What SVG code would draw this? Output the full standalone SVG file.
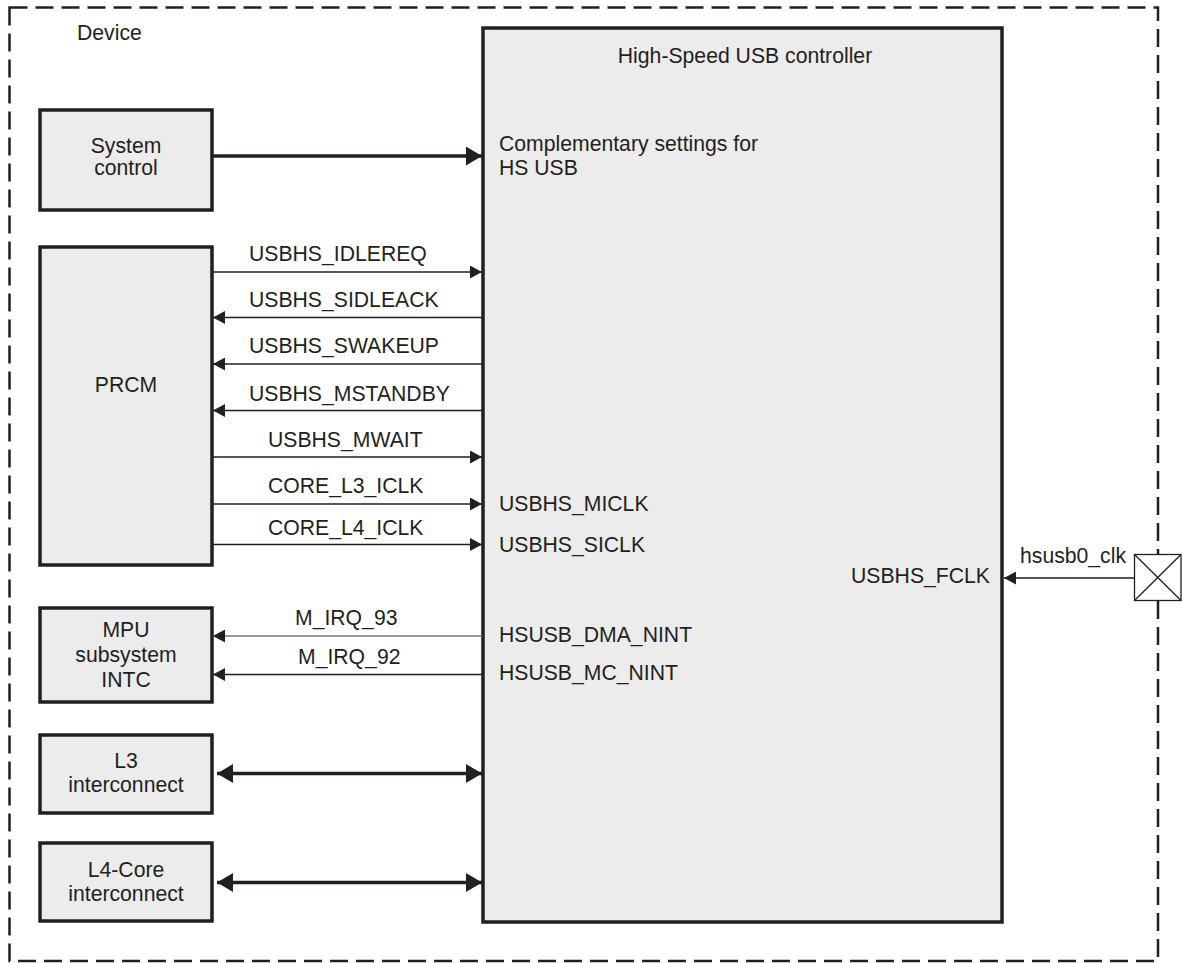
<svg xmlns="http://www.w3.org/2000/svg" width="1182" height="963" viewBox="0 0 1182 963">
<defs>
<style>
text{font-family:"Liberation Sans",Arial,sans-serif;font-size:21.2px;fill:#231f20}
.mid{text-anchor:middle}
.box{fill:#ececec;stroke:#231f20;stroke-width:3.5}
.thin{stroke:#231f20;stroke-width:1.5;fill:none}
.thick{stroke:#231f20;stroke-width:3.5;fill:none}
</style>
<marker id="ah" viewBox="0 0 12 13" refX="12" refY="6.5" markerWidth="12" markerHeight="13" markerUnits="userSpaceOnUse" orient="auto-start-reverse"><path d="M0,0L12,6.5L0,13Z" fill="#231f20"/></marker>
<marker id="ahb" viewBox="0 0 16 19" refX="16" refY="9.5" markerWidth="16" markerHeight="19" markerUnits="userSpaceOnUse" orient="auto-start-reverse"><path d="M0,0L16,9.5L0,19Z" fill="#231f20"/></marker>
</defs>
<rect width="1182" height="963" fill="#ffffff"/>
<g id="device">
<rect x="9.5" y="7.5" width="1148.5" height="953.5" fill="none" stroke="#231f20" stroke-width="2.5" stroke-dasharray="18 8"/>
<text x="77" y="40">Device</text>
</g>
<g id="controller">
<rect class="box" x="483" y="28" width="519" height="894"/>
<text x="745" y="63" class="mid">High-Speed USB controller</text>
<text x="499" y="151">Complementary settings for</text>
<text x="499" y="175">HS USB</text>
<text x="499" y="511">USBHS_MICLK</text>
<text x="499" y="552">USBHS_SICLK</text>
<text x="990" y="583" text-anchor="end">USBHS_FCLK</text>
<text x="499" y="642">HSUSB_DMA_NINT</text>
<text x="499" y="680">HSUSB_MC_NINT</text>
</g>
<g id="system-control">
<rect class="box" x="40" y="110" width="172" height="100"/>
<text x="126" y="153" class="mid">System</text>
<text x="126" y="175" class="mid">control</text>
</g>
<g id="prcm">
<rect class="box" x="40" y="247" width="172" height="318"/>
<text x="126" y="392" class="mid">PRCM</text>
</g>
<g id="mpu">
<rect class="box" x="40" y="608" width="172" height="94"/>
<text x="126" y="637" class="mid">MPU</text>
<text x="126" y="662" class="mid">subsystem</text>
<text x="126" y="687" class="mid">INTC</text>
</g>
<g id="l3">
<rect class="box" x="40" y="735" width="172" height="78"/>
<text x="126" y="768" class="mid">L3</text>
<text x="126" y="792" class="mid">interconnect</text>
</g>
<g id="l4">
<rect class="box" x="40" y="843" width="172" height="78"/>
<text x="126" y="877" class="mid">L4-Core</text>
<text x="126" y="901" class="mid">interconnect</text>
</g>
<g id="clk-pad">
<rect x="1134.5" y="554.5" width="46.5" height="46" fill="#ffffff" stroke="#231f20" stroke-width="1.3"/>
<path d="M1134.5,554.5L1181,600.5M1181,554.5L1134.5,600.5" stroke="#231f20" stroke-width="1.3" fill="none"/>
</g>
<g id="connectors">
<line class="thick" x1="213" y1="156" x2="482" y2="156" marker-end="url(#ahb)"/>
<line class="thin" x1="212" y1="272" x2="482" y2="272" marker-end="url(#ah)"/>
<text x="249" y="261">USBHS_IDLEREQ</text>
<line class="thin" x1="482" y1="317.5" x2="213" y2="317.5" marker-end="url(#ah)"/>
<text x="249" y="307">USBHS_SIDLEACK</text>
<line class="thin" x1="482" y1="364" x2="213" y2="364" marker-end="url(#ah)"/>
<text x="249" y="353">USBHS_SWAKEUP</text>
<line class="thin" x1="482" y1="410.5" x2="213" y2="410.5" marker-end="url(#ah)"/>
<text x="249" y="401">USBHS_MSTANDBY</text>
<line class="thin" x1="212" y1="457" x2="482" y2="457" marker-end="url(#ah)"/>
<text x="268" y="447">USBHS_MWAIT</text>
<line class="thin" x1="212" y1="504" x2="482" y2="504" marker-end="url(#ah)"/>
<text x="268" y="493">CORE_L3_ICLK</text>
<line class="thin" x1="212" y1="544.5" x2="482" y2="544.5" marker-end="url(#ah)"/>
<text x="268" y="535">CORE_L4_ICLK</text>
<line x1="482" y1="636" x2="213" y2="636" stroke="#777777" stroke-width="1.5" marker-end="url(#ah)"/>
<text x="295" y="625">M_IRQ_93</text>
<line class="thin" x1="482" y1="674.5" x2="213" y2="674.5" marker-end="url(#ah)"/>
<text x="298" y="664">M_IRQ_92</text>
<line class="thick" x1="217" y1="773.5" x2="482" y2="773.5" marker-start="url(#ahb)" marker-end="url(#ahb)"/>
<line class="thick" x1="217" y1="882.5" x2="482" y2="882.5" marker-start="url(#ahb)" marker-end="url(#ahb)"/>
<line class="thin" x1="1134" y1="578" x2="1004" y2="578" marker-end="url(#ah)"/>
<text x="1020" y="563">hsusb0_clk</text>
</g>
</svg>
